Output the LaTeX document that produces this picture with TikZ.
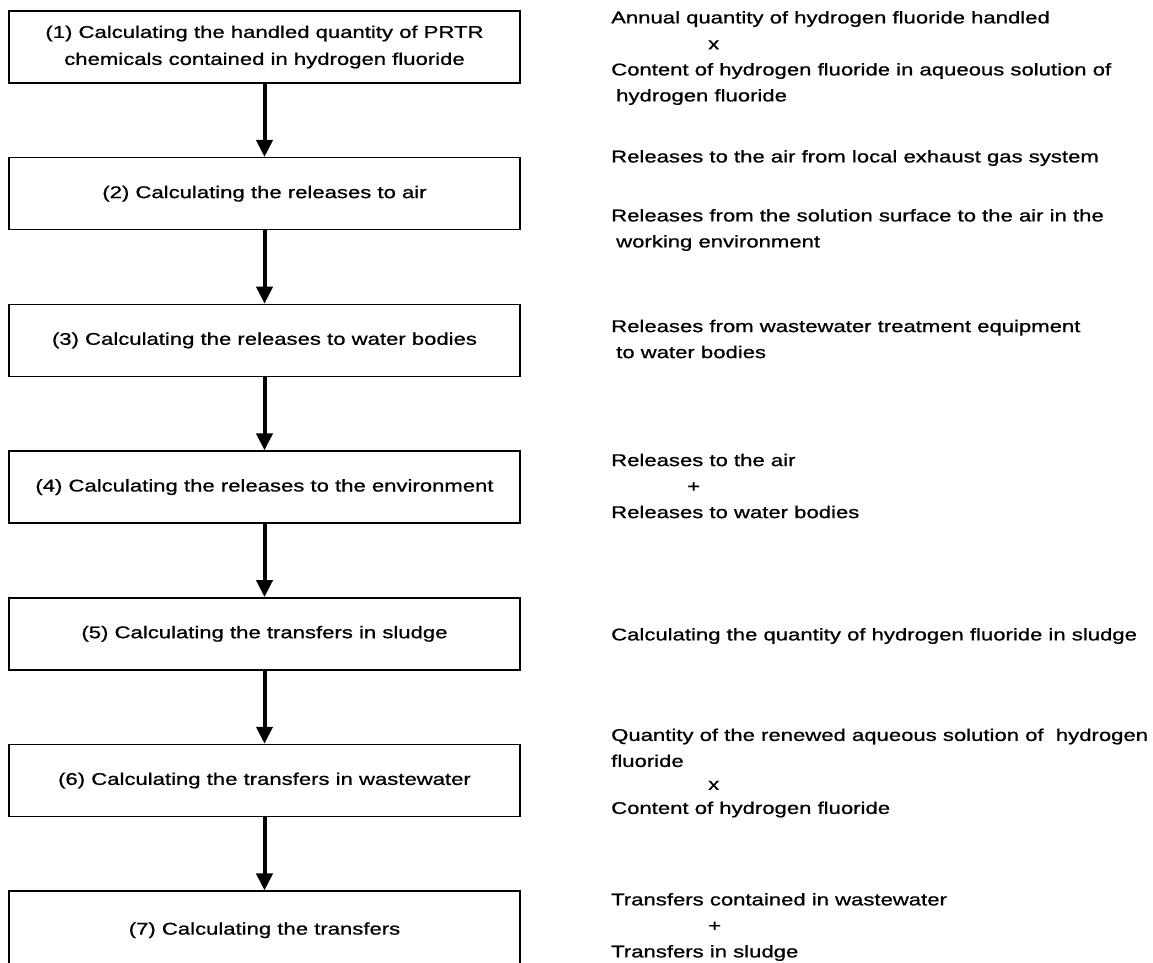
\documentclass[tikz,border=0pt]{standalone}
\usepackage{fontspec}
\setmainfont{Liberation Sans}[FakeStretch=1.3, FakeBold=0.9]
\usetikzlibrary{arrows.meta, math}

\tikzset{
stepbox/.style={draw, line width=1.5, minimum width=511, minimum height=72, inner sep=0, align=center, font=\fontsize{17}{27}\selectfont},
flowarrow/.style={-{Triangle[width=16pt,length=17pt]}, line width=4},
note/.style={anchor=west, inner sep=0, align=left, font=\fontsize{17}{26}\selectfont},
}

\begin{document}
\begin{tikzpicture}[x=1pt,y=-1pt]
\tikzmath{
\xb=264.5;%box centre
\yb=47;
\dy=146.7;%pitch of the boxes
\xn=611;%left edge of the notes
}
\useasboundingbox (0,0) rectangle (1153,962);

\node[stepbox] (s1) at (\xb,\yb) {(1) Calculating the handled quantity of PRTR\\chemicals contained in hydrogen fluoride};
\node[stepbox] (s2) at ({\xb},{\yb+\dy}) {(2) Calculating the releases to air};
\node[stepbox] (s3) at ({\xb},{\yb+2*\dy}) {(3) Calculating the releases to water bodies};
\node[stepbox] (s4) at ({\xb},{\yb+3*\dy}) {(4) Calculating the releases to the environment};
\node[stepbox] (s5) at ({\xb},{\yb+4*\dy}) {(5) Calculating the transfers in sludge};
\node[stepbox] (s6) at ({\xb},{\yb+5*\dy}) {(6) Calculating the transfers in wastewater};
\node[stepbox, minimum height=78] (s7) at ({\xb},{\yb+6*\dy+3}) {(7) Calculating the transfers};% runs off the page

\foreach \a/\b in {s1/s2,s2/s3,s3/s4,s4/s5,s5/s6,s6/s7}
  \draw[flowarrow] (\a) -- (\b);

\node[note] (n1) at (\xn,58) {Annual quantity of hydrogen fluoride handled\\\hspace*{97pt}x\\Content of hydrogen fluoride in aqueous solution of\\\hspace*{5pt}hydrogen fluoride};
\node[note] (n2) at (\xn,158) {Releases to the air from local exhaust gas system};
\node[note] (n2b) at (\xn,230) {Releases from the solution surface to the air in the\\\hspace*{5pt}working environment};
\node[note] (n3) at (\xn,339) {Releases from wastewater treatment equipment\\\hspace*{5pt}to water bodies};
\node[note] (n4) at (\xn,486) {Releases to the air\\\hspace*{76pt}+\\Releases to water bodies};
\node[note] (n5) at (\xn,636) {Calculating the quantity of hydrogen fluoride in sludge};
\node[note] (n6) at (\xn,773) {Quantity of the renewed aqueous solution of\ \ hydrogen\\fluoride\\[-3pt]\hspace*{97pt}x\\[-2pt]Content of hydrogen fluoride};
\node[note] (n7) at (\xn,927) {Transfers contained in wastewater\\\hspace*{97pt}+\\Transfers in sludge};
\end{tikzpicture}
\end{document}
